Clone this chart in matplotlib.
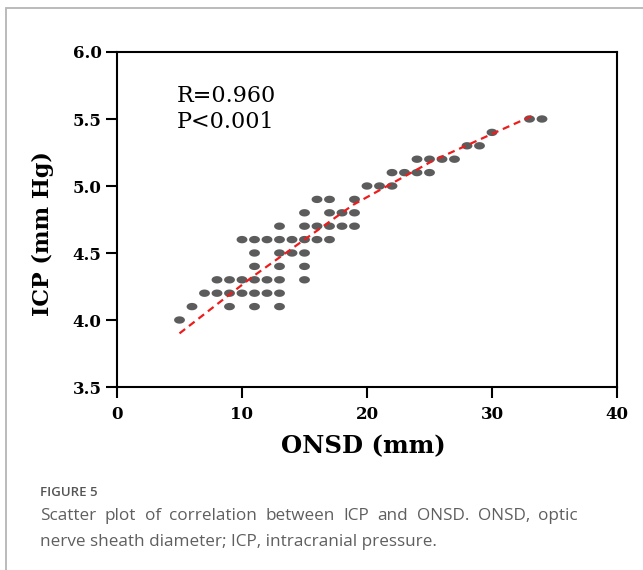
import numpy as np
import matplotlib
matplotlib.use("Agg")
import matplotlib.pyplot as plt
from matplotlib.path import Path
from matplotlib.patches import Rectangle

# ---- data ----
onsd = [5,
        6, 9, 11, 13,
        7, 8, 9, 10, 11, 12, 13,
        8, 9, 10, 11, 12, 13, 15,
        11, 13, 15,
        11, 13, 14, 15,
        10, 11, 12, 13, 14, 15, 16, 17,
        13, 15, 16, 17, 18, 19,
        15, 17, 18, 19,
        16, 17, 19,
        20, 21, 22,
        22, 23, 24, 25,
        24, 25, 26, 27,
        28, 29,
        30,
        33, 34]
icp = [4.0,
       4.1, 4.1, 4.1, 4.1,
       4.2, 4.2, 4.2, 4.2, 4.2, 4.2, 4.2,
       4.3, 4.3, 4.3, 4.3, 4.3, 4.3, 4.3,
       4.4, 4.4, 4.4,
       4.5, 4.5, 4.5, 4.5,
       4.6, 4.6, 4.6, 4.6, 4.6, 4.6, 4.6, 4.6,
       4.7, 4.7, 4.7, 4.7, 4.7, 4.7,
       4.8, 4.8, 4.8, 4.8,
       4.9, 4.9, 4.9,
       5.0, 5.0, 5.0,
       5.1, 5.1, 5.1, 5.1,
       5.2, 5.2, 5.2, 5.2,
       5.3, 5.3,
       5.4,
       5.5, 5.5]
# fitted trend curve
fit_onsd = [5.0, 10.8, 18.9, 25.3, 29.8, 33.5]
fit_icp = [3.90, 4.32, 4.86, 5.19, 5.38, 5.535]
x_ticks = [0, 10, 20, 30, 40]
y_ticks = [3.5, 4.0, 4.5, 5.0, 5.5, 6.0]
stats_text = ["R=0.960", "P<0.001"]
x_label = "ONSD (mm)"
y_label = "ICP (mm Hg)"
caption_title = "FIGURE 5"
caption_lines = ["Scatter plot of correlation between ICP and ONSD. ONSD, optic",
                 "nerve sheath diameter; ICP, intracranial pressure."]

W, H = 643, 570
fig = plt.figure(figsize=(W / 100, H / 100), dpi=100)

def fx(px):
    return px / W

def fy(py):
    return 1 - py / H

# outer frame
fig.patches.append(Rectangle((fx(6), -0.05), 1.2, fy(8) + 0.05, transform=fig.transFigure,
                             fill=False, edgecolor="#b5b5b5", lw=1.3, clip_on=False))

ax = fig.add_axes([fx(117), fy(387), fx(617) - fx(117), fy(52) - fy(387)])

# elliptical marker (reference is horizontally stretched)
t = np.linspace(0, 2 * np.pi, 60)
ell = Path(np.column_stack([np.cos(t), 0.68 * np.sin(t)]), closed=True)

ax.scatter(onsd, icp, marker=ell, s=7.8 ** 2, color="#5c5c5c", edgecolors="none", zorder=3)
ax.plot(fit_onsd, fit_icp, color="#ee1c1c", lw=1.6, ls=(0, (3.2, 2.2)), zorder=4)

ax.set_xlim(0, 40)
ax.set_ylim(3.5, 6.0)
ax.set_xticks(x_ticks)
ax.set_yticks(y_ticks)
ax.set_xticklabels([str(v) for v in x_ticks])
ax.set_yticklabels([f"{v:.1f}" for v in y_ticks])

serif = ["DejaVu Serif"]
for lab in ax.get_xticklabels() + ax.get_yticklabels():
    lab.set_fontfamily(serif)
    lab.set_fontweight("bold")
    lab.set_fontsize(12)
ax.tick_params(axis="both", direction="out", length=8, width=1.5, color="black")
ax.tick_params(axis="x", pad=6)
ax.tick_params(axis="y", pad=3)
for sp in ax.spines.values():
    sp.set_linewidth(1.5)
    sp.set_color("black")

# stats text
fig.text(fx(177), fy(102), stats_text[0], family=serif, fontsize=16, va="baseline", ha="left")
fig.text(fx(177), fy(128.5), stats_text[1], family=serif, fontsize=16, va="baseline", ha="left")

# axis labels
fig.text(fx(363.5), fy(453), x_label, family=serif, fontweight="bold", fontsize=17.5,
         ha="center", va="baseline")
fig.text(fx(43), fy(233.5), y_label, family=serif, fontweight="bold", fontsize=16,
         ha="center", va="center", rotation=90)

# caption
cap_font = ["Open Sans", "DejaVu Sans"]
cap_color = "#5f5f5f"
fig.text(fx(40), fy(496), caption_title, family=cap_font, fontsize=9.5, fontweight="semibold",
         color="#555555", ha="left", va="baseline")

# first caption line is justified (40 px -> 578 px)
words = caption_lines[0].split(" ")
wtexts = [fig.text(0, fy(520.5), w, family=cap_font, fontsize=12.3, color=cap_color,
                   ha="left", va="baseline") for w in words]
fig.canvas.draw()
renderer = fig.canvas.get_renderer()
widths = [tt.get_window_extent(renderer).width for tt in wtexts]
gap = (578 - 40 - sum(widths)) / (len(words) - 1)
xpos = 40.0
for tt, wd in zip(wtexts, widths):
    tt.set_x(fx(xpos))
    xpos += wd + gap

fig.text(fx(40), fy(545.5), caption_lines[1], family=cap_font, fontsize=12.3,
         color=cap_color, ha="left", va="baseline")

fig.savefig("out.png", dpi=100)
